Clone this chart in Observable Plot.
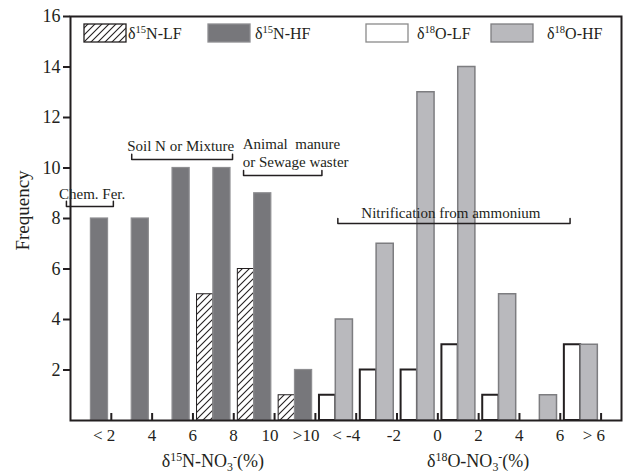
<!DOCTYPE html>
<html><head><meta charset="utf-8">
<script src="https://cdn.jsdelivr.net/npm/d3@7"></script>
<script src="https://cdn.jsdelivr.net/npm/@observablehq/plot@0.6"></script>
<style>body{margin:0;background:#fff;} #chart svg{display:block;}</style>
</head><body><div id="chart"></div>
<script>
// ---- data ----
const binLabels = ["< 2","4","6","8","10",">10","< -4","-2","0","2","4","6","> 6"];
const n15LF = [0, 0, 0, 5, 6, 1];
const n15HF = [8, 8, 10, 10, 9, 2];
const o18LF = [1, 2, 2, 3, 1, 0, 3];
const o18HF = [4, 7, 13, 14, 5, 1, 3];
const yTicks = [2, 4, 6, 8, 10, 12, 14, 16];
// text parts: [text, kind] kind: n = normal, sup = superscript, sub = subscript
const seriesNames = [
  [["δ","n"],["15","sup"],["N-LF","n"]],
  [["δ","n"],["15","sup"],["N-HF","n"]],
  [["δ","n"],["18","sup"],["O-LF","n"]],
  [["δ","n"],["18","sup"],["O-HF","n"]]
];
const axisTitles = [
  [["δ","n"],["15","sup"],["N-NO","n"],["3","sub"],["-","sup"],["(%)","n"]],
  [["δ","n"],["18","sup"],["O-NO","n"],["3","sub"],["-","sup"],["(%)","n"]]
];
const annotations = [
  {text: "Chem. Fer.", x1: -0.1, x2: 1.05, y: 8.48, tx: 0.53, ty: 8.99, anchor: "middle"},
  {text: "Soil N or Mixture", x1: 1.5, x2: 3.97, y: 10.34, tx: 2.7, ty: 10.89, anchor: "middle"},
  {text: "Animal  manure\nor Sewage waster", x1: 4.24, x2: 6.16, y: 9.7, tx: 4.22, ty: 10.61, anchor: "start"},
  {text: "Nitrification from ammonium", x1: 6.55, x2: 12.24, y: 7.8, tx: 9.32, ty: 8.24, anchor: "middle"}
];

// ---- layout / style ----
const W = 625, H = 473, mL = 70, mR = 4, mT = 16, mB = 53;
const FONT = "'Liberation Serif','Times New Roman',serif";
const INK = "#231f20";
const DARK = "#77777b", DARK_STROKE = "#8e8e91";
const LIGHT = "#b9b9bd", LIGHT_STROKE = "#7d7d80";

const bars = [];
const addBars = (arr, offset, kind) => arr.forEach((v, i) => { if (v > 0) bars.push({bin: offset + i, kind, value: v}); });
addBars(n15LF, 0, "NLF"); addBars(n15HF, 0, "NHF");
addBars(o18LF, n15LF.length, "OLF"); addBars(o18HF, n15HF.length, "OHF");
const isLF = k => k.endsWith("LF");
const bx1 = d => d.bin + (isLF(d.kind) ? 0.1 : 0.5);
const bx2 = d => d.bin + (isLF(d.kind) ? 0.5 : 0.92);
const of = k => bars.filter(d => d.kind === k);

const tickPos = binLabels.map((_, i) => i + 1);
const brackets = annotations.map((a, i) => [
  {i, x: a.x1, y: a.y + 0.2}, {i, x: a.x1, y: a.y}, {i, x: a.x2, y: a.y}, {i, x: a.x2, y: a.y + 0.2}
]).flat();
const annMiddle = annotations.filter(a => a.anchor === "middle");
const annStart = annotations.filter(a => a.anchor === "start");

const plot = Plot.plot({
  width: W, height: H,
  marginLeft: mL, marginRight: mR, marginTop: mT, marginBottom: mB,
  style: {fontFamily: FONT, fontSize: "16px", color: INK, background: "#fff"},
  x: {domain: [0, 13.5]},
  y: {domain: [0, 16]},
  marks: [
    Plot.rectY(of("NLF"), {x1: bx1, x2: bx2, y1: 0, y2: "value", fill: "url(#hatch)", stroke: INK, strokeWidth: 1}),
    Plot.rectY(of("NHF"), {x1: bx1, x2: bx2, y1: 0, y2: "value", fill: DARK, stroke: DARK_STROKE, strokeWidth: 1.2}),
    Plot.rectY(of("OLF"), {x1: bx1, x2: bx2, y1: 0, y2: "value", fill: "#fff", stroke: INK, strokeWidth: 2}),
    Plot.rectY(of("OHF"), {x1: bx1, x2: bx2, y1: 0, y2: "value", fill: LIGHT, stroke: LIGHT_STROKE, strokeWidth: 1.5}),
    Plot.line(brackets, {x: "x", y: "y", z: "i", stroke: INK, strokeWidth: 1.5}),
    Plot.text(annMiddle, {x: "tx", y: "ty", text: "text", textAnchor: "middle", fontSize: 15, lineHeight: 1.2, fill: INK}),
    Plot.text(annStart, {x: "tx", y: "ty", text: "text", textAnchor: "start", fontSize: 15, lineHeight: 1.2, fill: INK}),
    Plot.ruleX(tickPos, {stroke: INK, strokeWidth: 2, insetTop: H - mT - mB - 7}),
    Plot.axisX(tickPos, {tickSize: 0, tickPadding: 8, tickFormat: i => binLabels[i - 1], textAnchor: "end", dx: 4, fontSize: 17, label: null}),
    Plot.axisY(yTicks, {tickSize: 7, tickPadding: 3, strokeWidth: 2, fontSize: 18, label: null}),
    Plot.text(["Frequency"], {frameAnchor: "left", textAnchor: "middle", rotate: -90, dx: -48, dy: -8, fontSize: 19, fill: INK}),
    Plot.frame({stroke: INK, strokeWidth: 2})
  ]
});

const svg = d3.select(plot);
svg.insert("defs", ":first-child").html(
  `<pattern id="hatch" patternUnits="userSpaceOnUse" width="7" height="7">
     <rect width="7" height="7" fill="#fff"/>
     <path d="M-1,1 L1,-1 M0,7 L7,0 M6,8 L8,6" stroke="${INK}" stroke-width="1.1"/>
   </pattern>`);

const xs = plot.scale("x");
function richText(g, parts, x, y, size, anchor) {
  const t = g.append("text").attr("x", x).attr("y", y).attr("text-anchor", anchor)
    .attr("font-family", FONT).attr("font-size", size).attr("fill", INK);
  let cur = 0;
  parts.forEach(([s, kind]) => {
    const target = kind === "sup" ? -0.36 * size : kind === "sub" ? 0.22 * size : 0;
    const ts = t.append("tspan").text(s);
    if (kind !== "n") ts.attr("font-size", size * 0.66);
    if (target !== cur) ts.attr("dy", target - cur);
    cur = target;
  });
  return t;
}
const g = svg.append("g");
const groupCentres = [
  xs.apply((1 + n15HF.length) / 2),
  xs.apply((n15HF.length + 1 + binLabels.length) / 2)
];
axisTitles.forEach((parts, i) => richText(g, parts, groupCentres[i], H - 6, 18, "middle"));

// legend inside the frame
const legendBoxX = [84, 208, 366, 491], legendTextX = [128, 255, 417, 547];
const fills = ["url(#hatch)", DARK, "#fff", LIGHT];
const strokes = [INK, DARK_STROKE, "#8a8a8a", LIGHT_STROKE];
seriesNames.forEach((parts, i) => {
  g.append("rect").attr("x", legendBoxX[i]).attr("y", 24).attr("width", 42).attr("height", 18)
    .attr("fill", fills[i]).attr("stroke", strokes[i]).attr("stroke-width", 1.3);
  richText(g, parts, legendTextX[i], 39, 16, "start");
});

document.getElementById("chart").append(plot);
</script></body></html>
